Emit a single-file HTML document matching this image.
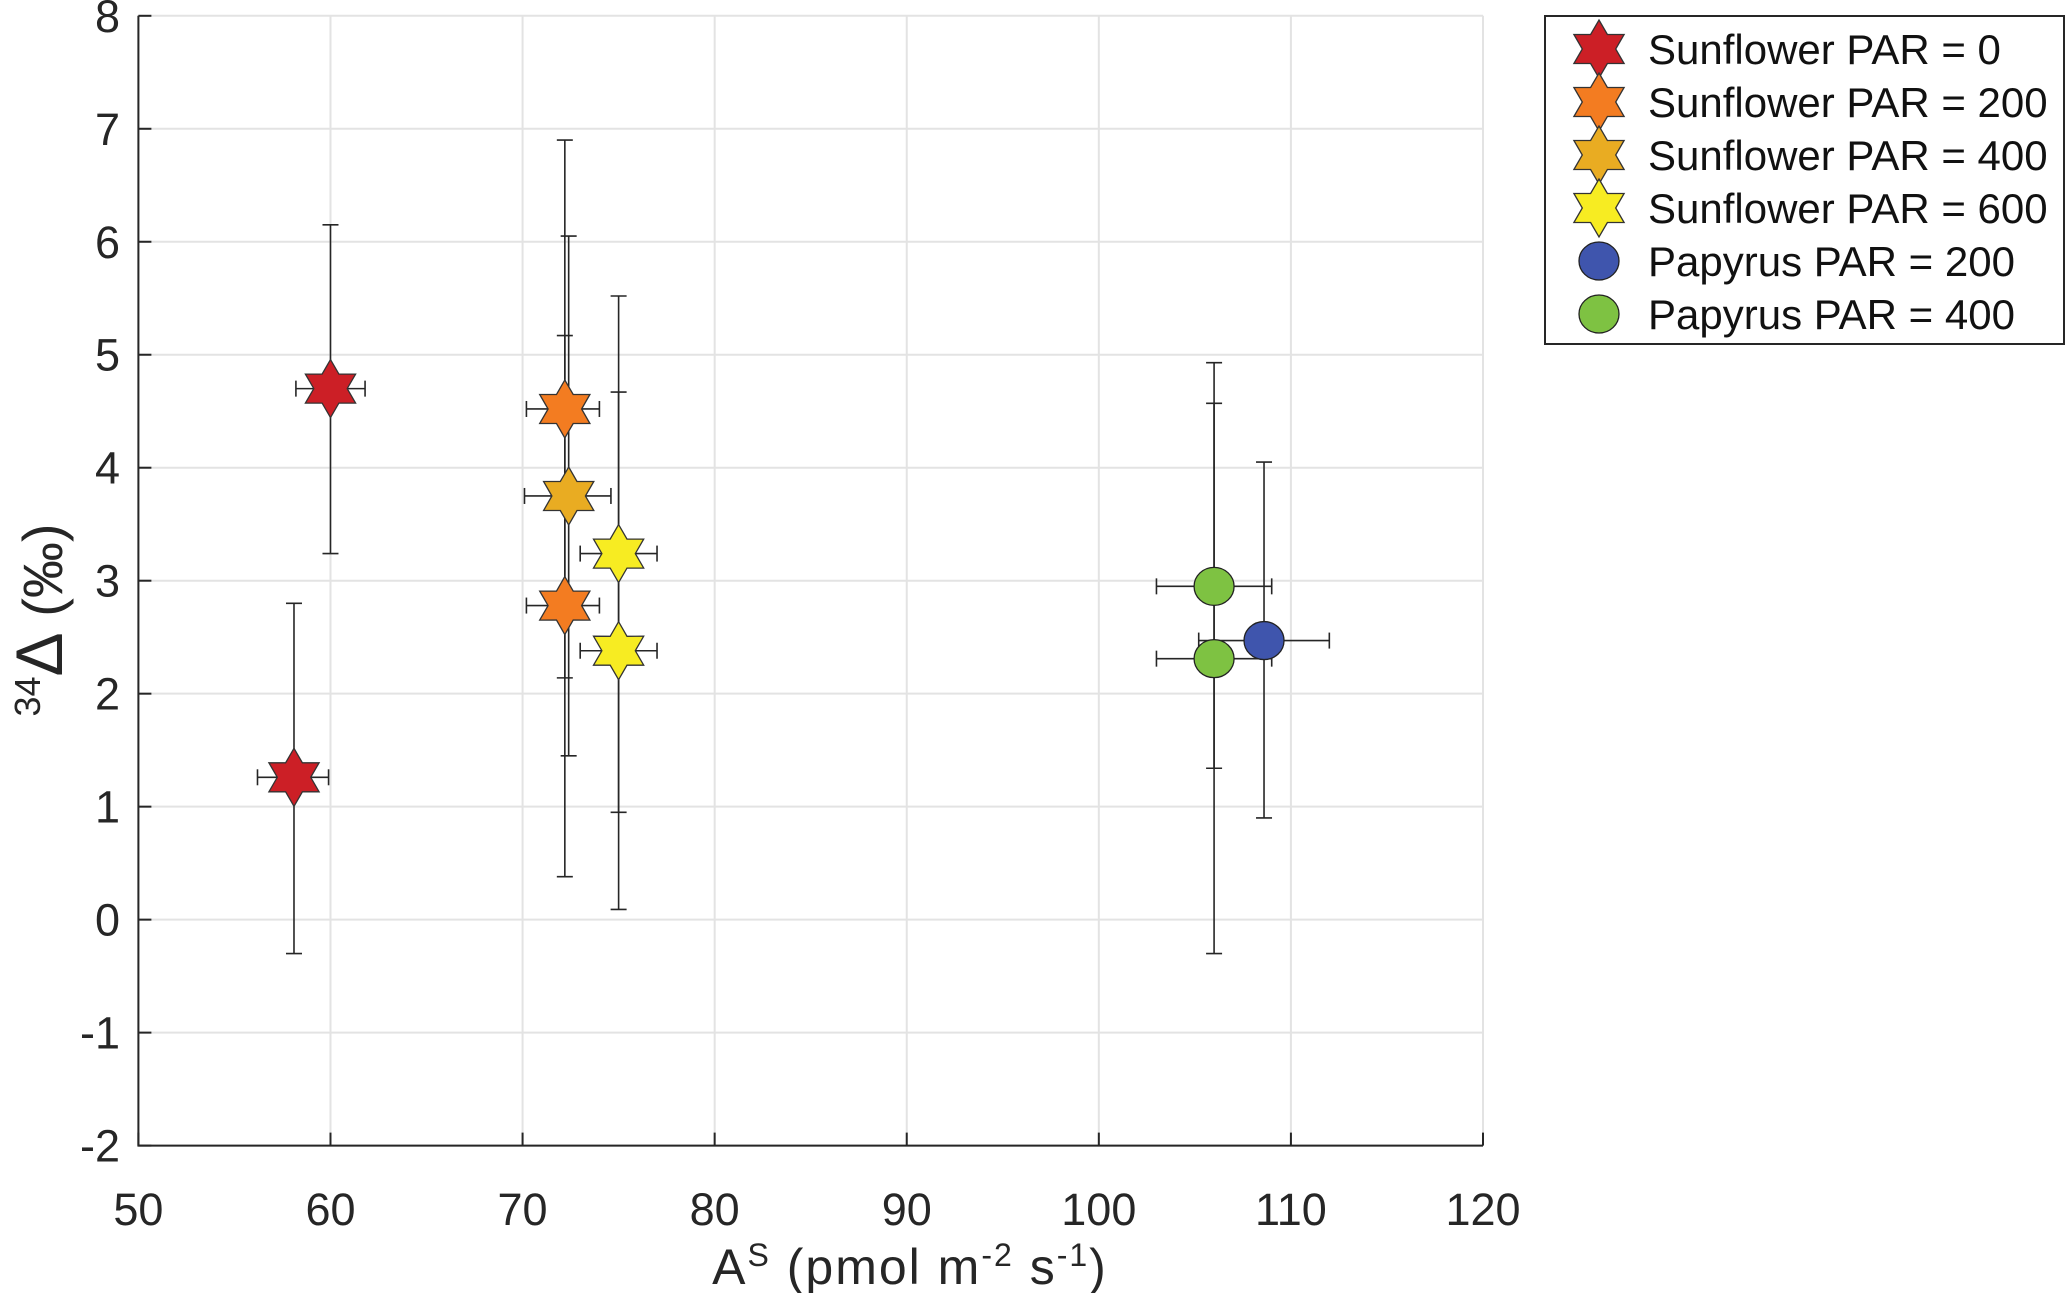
<!DOCTYPE html>
<html><head><meta charset="utf-8"><style>
html,body{margin:0;padding:0;background:#fff;}
svg{display:block;font-family:"Liberation Sans",sans-serif;}
</style></head><body>
<svg id="chart" width="2067" height="1293">
<g id="grid"></g>
<g id="axes"></g>
<g id="marks"></g>
<g id="legend"></g>
</svg>
<script>
const seriesNames=["Sunflower PAR = 0","Sunflower PAR = 200","Sunflower PAR = 400","Sunflower PAR = 600","Papyrus PAR = 200","Papyrus PAR = 400"];
const seriesColors=["#cc1f26","#f37c21","#e9ac22","#f7ec22","#3f55ad","#7ec242"];
const seriesShapes=["star","star","star","star","circle","circle"];
const pointSeries=[0,0,1,1,2,3,3,4,5,5];
const xVals=[60,58.1,72.2,72.2,72.4,75,75,108.6,106,106];
const yVals=[4.7,1.26,4.52,2.78,3.75,3.24,2.38,2.47,2.95,2.31];
const xLo=[58.2,56.2,70.2,70.2,70.1,73,73,105.2,103,103];
const xHi=[61.8,59.9,74,74,74.6,77,77,112,109,109];
const yLo=[3.24,-0.3,2.14,0.38,1.45,0.95,0.09,0.9,1.34,-0.3];
const yHi=[6.15,2.8,6.9,5.17,6.05,5.52,4.67,4.05,4.93,4.57];
const xTicks=[50,60,70,80,90,100,110,120];
const yTicks=[-2,-1,0,1,2,3,4,5,6,7,8];

const L=138.4,R=1483,T=15.8,B=1145.6;
const sx=v=>L+(v-50)/70*(R-L);
const sy=v=>B-(v+2)/10*(B-T);
const NS="http://www.w3.org/2000/svg";
function mk(tag,attrs,parent){const e=document.createElementNS(NS,tag);for(const k in attrs)e.setAttribute(k,attrs[k]);parent.appendChild(e);return e;}
const grid=document.getElementById('grid'),axes=document.getElementById('axes'),marks=document.getElementById('marks'),legend=document.getElementById('legend');
mk('rect',{x:L,y:T,width:R-L,height:B-T,fill:'#fff'},grid);
xTicks.forEach(t=>{
  const l=mk('line',{x1:sx(t),x2:sx(t),y1:T,y2:B,stroke:'#e3e3e3','stroke-width':2},grid);
  
  
  mk('line',{x1:sx(t),x2:sx(t),y1:B,y2:B-13,stroke:'#262626','stroke-width':2},axes);
  const tx=mk('text',{x:sx(t),y:1225,'text-anchor':'middle','font-size':45,fill:'#262626'},axes);
  tx.textContent=t;
  
  
});
yTicks.forEach(t=>{
  const l=mk('line',{x1:L,x2:R,y1:sy(t),y2:sy(t),stroke:'#e3e3e3','stroke-width':2},grid);
  
  
  mk('line',{x1:L,x2:L+13,y1:sy(t),y2:sy(t),stroke:'#262626','stroke-width':2},axes);
  const tx=mk('text',{x:120,y:sy(t)+16,'text-anchor':'end','font-size':45,fill:'#262626'},axes);
  tx.textContent=t;
  
  
});
mk('path',{d:`M${L},${T}V${B}H${R}`,fill:'none',stroke:'#262626','stroke-width':2},axes);
const xl=mk('text',{x:910,y:1284,'text-anchor':'middle','font-size':50,'letter-spacing':2,fill:'#262626'},axes);
xl.innerHTML='A<tspan font-size="32" dy="-18">S</tspan><tspan dy="18"> (pmol m</tspan><tspan font-size="32" dy="-18">-2</tspan><tspan dy="18"> s</tspan><tspan font-size="32" dy="-18">-1</tspan><tspan dy="18">)</tspan>';


const yl=mk('text',{x:0,y:0,'text-anchor':'middle','font-size':56,fill:'#262626',transform:'translate(62,620) rotate(-90)'},axes);
yl.innerHTML='<tspan font-size="36" dy="-22">34</tspan><tspan dy="22" font-size="66">Δ</tspan><tspan> (‰)</tspan>';



function starPath(cx,cy,r){
  const ri=r*0.577;let d='';
  for(let i=0;i<12;i++){const a=-Math.PI/2+i*Math.PI/6;const rr=i%2?ri:r;d+=(i?'L':'M')+(cx+rr*Math.cos(a)).toFixed(1)+','+(cy+rr*Math.sin(a)).toFixed(1);}
  return d+'Z';
}
function marker(shape,cx,cy,color,parent){
  if(shape==='star') return mk('path',{d:starPath(cx,cy,29),fill:color,stroke:'#333','stroke-width':1.3},parent);
  return mk('ellipse',{cx:cx,cy:cy,rx:20,ry:19,fill:color,stroke:'#222','stroke-width':1.3},parent);
}
const cap=8;
xVals.forEach((x,i)=>{
  const g=mk('g',{},marks);
  
  
  const st={stroke:'#262626','stroke-width':1.6};
  mk('line',Object.assign({x1:sx(x),x2:sx(x),y1:sy(yLo[i]),y2:sy(yHi[i])},st),g);
  mk('line',Object.assign({x1:sx(x)-cap,x2:sx(x)+cap,y1:sy(yLo[i]),y2:sy(yLo[i])},st),g);
  mk('line',Object.assign({x1:sx(x)-cap,x2:sx(x)+cap,y1:sy(yHi[i]),y2:sy(yHi[i])},st),g);
  mk('line',Object.assign({x1:sx(xLo[i]),x2:sx(xHi[i]),y1:sy(yVals[i]),y2:sy(yVals[i])},st),g);
  mk('line',Object.assign({x1:sx(xLo[i]),x2:sx(xLo[i]),y1:sy(yVals[i])-cap,y2:sy(yVals[i])+cap},st),g);
  mk('line',Object.assign({x1:sx(xHi[i]),x2:sx(xHi[i]),y1:sy(yVals[i])-cap,y2:sy(yVals[i])+cap},st),g);
});
xVals.forEach((x,i)=>{
  const s=pointSeries[i];
  const m=marker(seriesShapes[s],sx(x),sy(yVals[i]),seriesColors[s],marks);
  
  
});
mk('rect',{x:1545,y:16,width:519,height:328,fill:'#fff',stroke:'#262626','stroke-width':2},legend);
seriesNames.forEach((n,i)=>{
  const cy=49+i*53;
  const g=mk('g',{},legend);
  
  
  marker(seriesShapes[i],1599,cy,seriesColors[i],g);
  const t=mk('text',{x:1648,y:cy+15,'font-size':42,fill:'#111'},g);
  t.textContent=n;
});
</script>
</body></html>
